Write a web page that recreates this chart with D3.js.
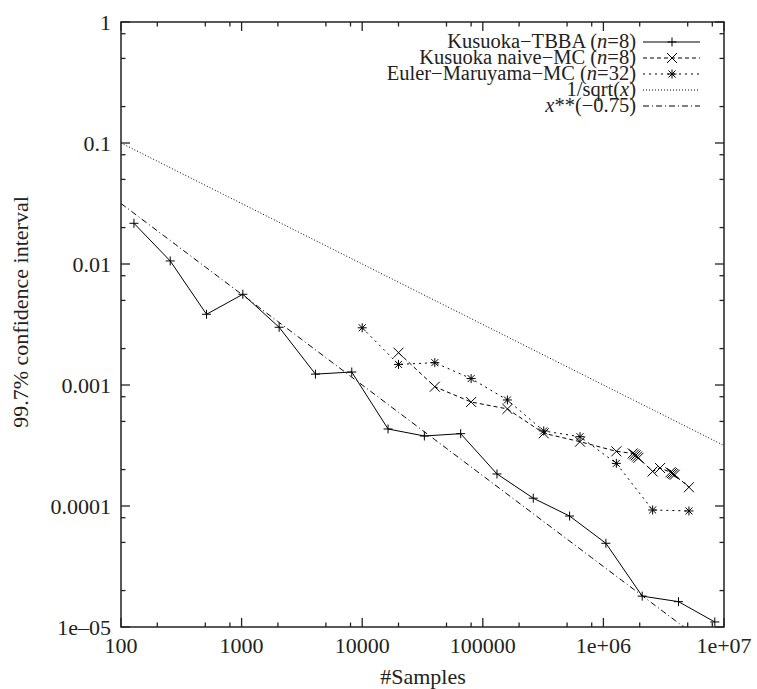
<!DOCTYPE html>
<html>
<head>
<meta charset="utf-8">
<script src="https://cdn.jsdelivr.net/npm/d3@7"></script>
<style>
  html, body { margin: 0; padding: 0; background: #fff; }
  #chart text { font-family: "Times New Roman", Times, "Liberation Serif", Tinos, "Nimbus Roman", "DejaVu Serif", serif; }
</style>
</head>
<body>
<svg id="chart" width="757" height="689"></svg>
<script>
// Kusuoka–TBBA (n=8): samples and 99.7% confidence interval
const tbbaSamples = [128, 256, 512, 1024, 2048, 4096, 8192, 16384, 32768, 65536,
  131072, 262144, 524288, 1048576, 2097152, 4194304, 8388608];
const tbbaCI = [0.0217, 0.0106, 0.00384, 0.00562, 0.00300, 0.00123, 0.00128, 0.000433,
  0.000379, 0.000396, 0.000184, 0.000116, 0.0000826, 0.0000492, 0.0000180, 0.0000162, 0.0000110];

// Kusuoka naive-MC (n=8)
const naiveSamples = [20000, 40000, 80000, 160000, 320000, 640000, 1280000,
  1750000, 1800000, 1850000, 1900000, 1950000, 2560000, 2950000,
  3600000, 3700000, 3800000, 3900000, 5120000];
const naiveCI = [0.00185, 0.000968, 0.000724, 0.000634, 0.000399, 0.000340, 0.000283,
  0.000272, 0.000267, 0.000262, 0.000256, 0.000250, 0.000193, 0.000206,
  0.000190, 0.000187, 0.000184, 0.000181, 0.000143];

// Euler–Maruyama-MC (n=32)
const eulerSamples = [10000, 20000, 40000, 80000, 160000, 320000, 640000, 1280000, 2560000, 5120000];
const eulerCI = [0.00297, 0.00148, 0.00153, 0.00113, 0.000752, 0.000417, 0.000374, 0.000225, 0.0000927, 0.0000910];

// axis tick labels
const xTickValues = [100, 1000, 10000, 100000, 1e6, 1e7];
const xTickLabels = ["100", "1000", "10000", "100000", "1e+06", "1e+07"];
const yTickValues = [1, 0.1, 0.01, 0.001, 0.0001, 1e-5];
const yTickLabels = ["1", "0.1", "0.01", "0.001", "0.0001", "1e\u201305"];

(function draw() {
  const svg = d3.select("#chart");
  const pL = 121, pR = 724, pT = 22, pB = 627;
  const textColor = "#222";

  const x = d3.scaleLog().domain([100, 1e7]).range([pL, pR]);
  const y = d3.scaleLog().domain([1e-5, 1]).range([pB, pT]);

  // clipping to the plot frame
  svg.append("defs").append("clipPath").attr("id", "plotclip")
    .append("rect").attr("x", pL).attr("y", pT)
    .attr("width", pR - pL).attr("height", pB - pT);

  // minor ticks at 2, 5, 8 within each decade
  function minorTicks(lo, hi) {
    const out = [];
    for (let d = lo; d < hi * 0.999; d *= 10) [2, 5, 8].forEach(m => out.push(d * m));
    return out;
  }
  const xMinor = minorTicks(100, 1e7);
  const yMinor = minorTicks(1e-5, 1);

  const axisColor = "#222";
  const ticks = svg.append("g").attr("stroke", axisColor).attr("stroke-width", 1.3);
  const majorLen = 9, minorLen = 4.5;

  function xTicks(vals, len) {
    vals.forEach(v => {
      const px = x(v);
      ticks.append("line").attr("x1", px).attr("x2", px).attr("y1", pB).attr("y2", pB - len);
      ticks.append("line").attr("x1", px).attr("x2", px).attr("y1", pT).attr("y2", pT + len);
    });
  }
  function yTicks(vals, len) {
    vals.forEach(v => {
      const py = y(v);
      ticks.append("line").attr("y1", py).attr("y2", py).attr("x1", pL).attr("x2", pL + len);
      ticks.append("line").attr("y1", py).attr("y2", py).attr("x1", pR).attr("x2", pR - len);
    });
  }
  xTicks(xTickValues, majorLen);
  xTicks(xMinor, minorLen);
  yTicks(yTickValues, majorLen);
  yTicks(yMinor, minorLen);

  // tick labels
  svg.append("g").selectAll("text").data(xTickValues).join("text")
    .attr("x", d => x(d)).attr("y", 653)
    .attr("text-anchor", "middle").attr("font-size", 22).attr("fill", textColor)
    .text((d, i) => xTickLabels[i]);

  svg.append("g").selectAll("text").data(yTickValues).join("text")
    .attr("x", 111).attr("y", d => y(d) + 7.5)
    .attr("text-anchor", "end").attr("font-size", 22).attr("fill", textColor)
    .text((d, i) => yTickLabels[i]);

  // axis titles
  svg.append("text").attr("x", 423).attr("y", 684)
    .attr("text-anchor", "middle").attr("font-size", 22).attr("fill", textColor)
    .text("#Samples");
  svg.append("text")
    .attr("transform", "translate(28,312) rotate(-90)")
    .attr("text-anchor", "middle").attr("font-size", 22).attr("fill", textColor)
    .text("99.7% confidence interval");

  // plot contents
  const plot = svg.append("g").attr("clip-path", "url(#plotclip)");

  // reference slopes
  const refX = d3.range(0, 101).map(i => 100 * Math.pow(10, 5 * i / 100));
  const sqrtRef = refX.map(v => [v, 1 / Math.sqrt(v)]);
  const powRef = refX.map(v => [v, Math.pow(v, -0.75)]);

  const line = d3.line().x(d => x(d[0])).y(d => y(d[1]));

  const styles = {
    tbba: null,
    naive: "4,3",
    euler: "2,4",
    sqrt: "1,2",
    pow: "6,3,1,3"
  };

  plot.append("path").datum(sqrtRef).attr("d", line)
    .attr("fill", "none").attr("stroke", "#000").attr("stroke-width", 1)
    .attr("stroke-dasharray", styles.sqrt);
  plot.append("path").datum(powRef).attr("d", line)
    .attr("fill", "none").attr("stroke", "#000").attr("stroke-width", 1)
    .attr("stroke-dasharray", styles.pow);

  const tbba = tbbaSamples.map((s, i) => [s, tbbaCI[i]]);
  const naive = naiveSamples.map((s, i) => [s, naiveCI[i]]);
  const euler = eulerSamples.map((s, i) => [s, eulerCI[i]]);

  // marker shapes
  const plusPath = "M-4.5,0H4.5M0,-4.5V4.5";
  const crossPath = "M-5,-5L5,5M-5,5L5,-5";
  const starPath = "M-4.5,0H4.5M0,-4.5V4.5M-3.5,-3.5L3.5,3.5M-3.5,3.5L3.5,-3.5";

  function series(data, dash, marker) {
    const g = plot.append("g");
    g.append("path").datum(data).attr("d", line)
      .attr("fill", "none").attr("stroke", "#000").attr("stroke-width", 1)
      .attr("stroke-dasharray", dash);
    g.selectAll("path.m").data(data).join("path").attr("class", "m")
      .attr("d", marker)
      .attr("transform", d => `translate(${x(d[0])},${y(d[1])})`)
      .attr("fill", "none").attr("stroke", "#000").attr("stroke-width", 1);
  }
  series(tbba, styles.tbba, plusPath);
  series(naive, styles.naive, crossPath);
  series(euler, styles.euler, starPath);

  // frame
  svg.append("rect").attr("x", pL).attr("y", pT)
    .attr("width", pR - pL).attr("height", pB - pT)
    .attr("fill", "none").attr("stroke", axisColor).attr("stroke-width", 1.5);

  // legend
  const legendItems = [
    { parts: [["Kusuoka\u2212TBBA (", 0], ["n", 1], ["=8)", 0]], dash: styles.tbba, marker: plusPath },
    { parts: [["Kusuoka naive\u2212MC (", 0], ["n", 1], ["=8)", 0]], dash: styles.naive, marker: crossPath },
    { parts: [["Euler\u2212Maruyama\u2212MC (", 0], ["n", 1], ["=32)", 0]], dash: styles.euler, marker: starPath },
    { parts: [["1/sqrt(", 0], ["x", 1], [")", 0]], dash: styles.sqrt, marker: null },
    { parts: [["x", 1], ["**(\u22120.75)", 0]], dash: styles.pow, marker: null }
  ];
  const legend = svg.append("g");
  legendItems.forEach((item, i) => {
    const base = 48 + 16 * i;
    const t = legend.append("text").attr("x", 636).attr("y", base)
      .attr("text-anchor", "end").attr("font-size", 20.5).attr("fill", textColor);
    item.parts.forEach(p => {
      t.append("tspan").attr("font-style", p[1] ? "italic" : "normal").text(p[0]);
    });
    const ly = base - 6;
    legend.append("line").attr("x1", 643).attr("x2", 700).attr("y1", ly).attr("y2", ly)
      .attr("stroke", "#000").attr("stroke-width", 1).attr("stroke-dasharray", item.dash);
    if (item.marker) {
      legend.append("path").attr("d", item.marker)
        .attr("transform", `translate(672,${ly})`)
        .attr("fill", "none").attr("stroke", "#000").attr("stroke-width", 1);
    }
  });
})();
</script>
</body>
</html>
